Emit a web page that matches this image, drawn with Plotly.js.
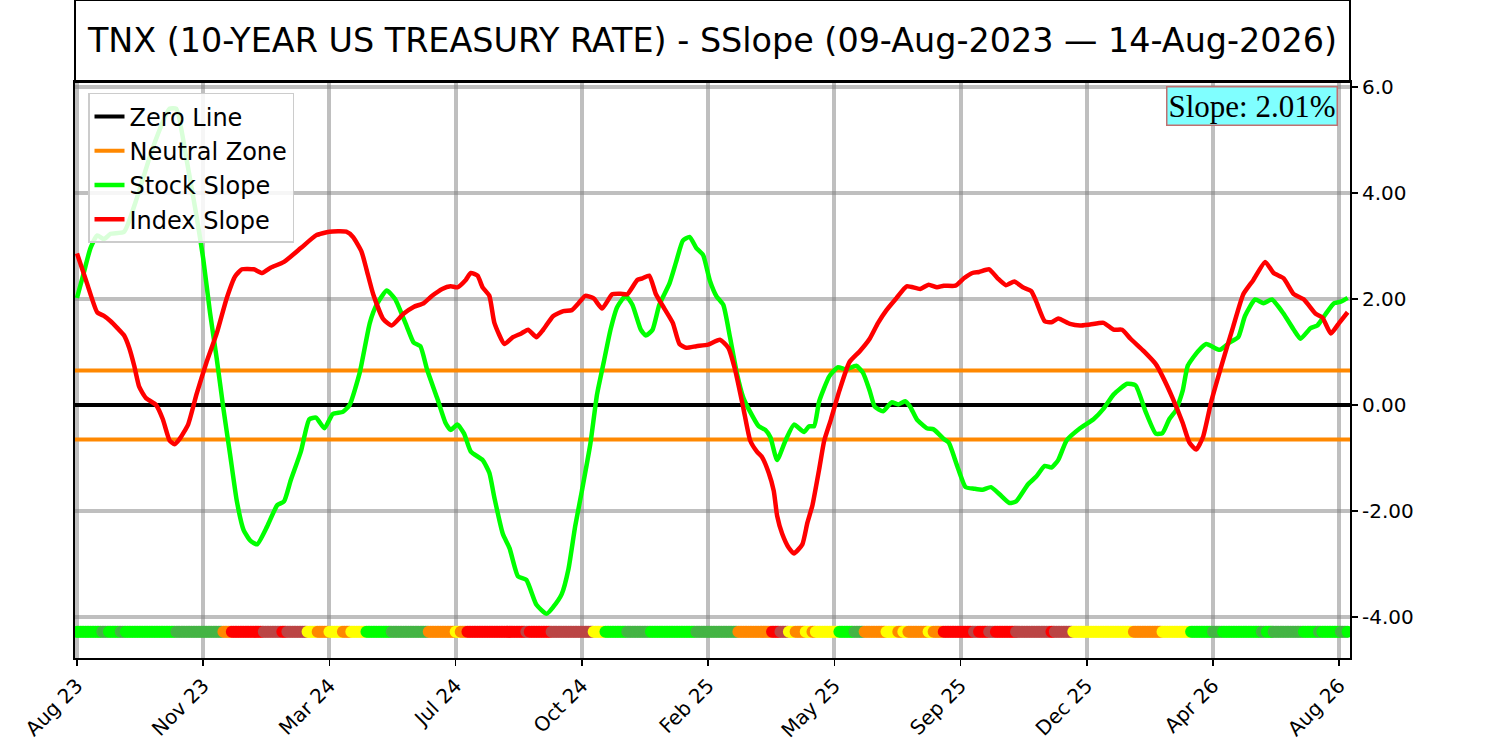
<!DOCTYPE html>
<html>
<head>
<meta charset="utf-8">
<script src="https://cdn.plot.ly/plotly-3.0.1.min.js"></script>
<style>
  html, body { margin: 0; padding: 0; background: #fff; }
  #chart { width: 1500px; height: 741px; }
</style>
</head>
<body>
<div id="chart"></div>
<script>
// trading-day index (0 = 09-Aug-2023), ticks every 75 sessions
const tickDays = [0, 75, 150, 225, 300, 375, 450, 525, 600, 675, 750];
const tickLabels = ['Aug 23', 'Nov 23', 'Mar 24', 'Jul 24', 'Oct 24', 'Feb 25', 'May 25', 'Sep 25', 'Dec 25', 'Apr 26', 'Aug 26'];
const lastDay = 755;

const yTicks = [-4, -2, 0, 2, 4, 6];
const yTickText = ['-4.00', '-2.00', '0.00', '2.00', '4.00', '6.0'];

const zeroLevel = 0;
const neutralBand = 0.65;
const stripLevel = -4.28;
const slopeText = 'Slope: 2.01%';

// stock slope (green)
const stockDays = [0, 4, 8, 12, 16, 20, 28, 35, 45, 55, 59, 65, 71, 75, 79, 83, 87, 91, 95, 99, 103, 107, 113, 119, 123, 127, 133, 138, 142, 147, 152, 158, 162, 168, 174, 178, 184, 189, 196, 200, 204, 208, 214, 219, 222, 226, 230, 234, 241, 245, 248, 253, 257, 262, 267, 273, 279, 283, 288, 292, 296, 300, 305, 309, 313, 317, 321, 326, 330, 335, 338, 342, 346, 352, 356, 360, 364, 368, 372, 376, 380, 384, 388, 392, 396, 400, 405, 409, 412, 416, 421, 426, 432, 435, 438, 441, 447, 452, 457, 463, 467, 471, 474, 479, 484, 488, 492, 495, 499, 505, 509, 515, 518, 523, 528, 533, 538, 543, 548, 554, 558, 565, 570, 575, 579, 583, 588, 596, 604, 610, 616, 624, 629, 635, 641, 645, 649, 653, 657, 660, 666, 671, 679, 685, 690, 694, 700, 705, 710, 717, 723, 727, 733, 737, 742, 747, 751, 755];
const stockSlope = [2.02, 2.49, 2.96, 3.2, 3.13, 3.23, 3.27, 3.85, 4.85, 5.59, 5.59, 4.65, 3.57, 2.76, 1.75, 0.88, -0.07, -0.94, -1.82, -2.36, -2.56, -2.63, -2.29, -1.89, -1.82, -1.42, -0.88, -0.27, -0.24, -0.44, -0.17, -0.13, 0.0, 0.61, 1.55, 1.89, 2.16, 2.0, 1.48, 1.18, 1.11, 0.67, 0.13, -0.34, -0.47, -0.37, -0.54, -0.88, -1.04, -1.28, -1.75, -2.43, -2.7, -3.23, -3.3, -3.77, -3.94, -3.81, -3.57, -3.1, -2.29, -1.62, -0.74, 0.2, 0.81, 1.42, 1.85, 2.06, 1.89, 1.42, 1.31, 1.42, 1.89, 2.29, 2.7, 3.1, 3.17, 2.96, 2.83, 2.35, 2.05, 1.89, 1.28, 0.61, 0.13, -0.13, -0.4, -0.47, -0.61, -1.04, -0.67, -0.37, -0.51, -0.4, -0.4, 0.07, 0.54, 0.71, 0.67, 0.74, 0.61, 0.27, -0.03, -0.12, 0.05, 0.01, 0.07, -0.03, -0.27, -0.44, -0.46, -0.64, -0.71, -1.15, -1.55, -1.58, -1.6, -1.55, -1.68, -1.85, -1.82, -1.5, -1.35, -1.15, -1.18, -1.04, -0.67, -0.44, -0.27, -0.07, 0.2, 0.4, 0.37, -0.13, -0.54, -0.53, -0.27, -0.1, 0.27, 0.74, 1.01, 1.15, 1.04, 1.18, 1.28, 1.68, 1.99, 1.92, 1.99, 1.72, 1.42, 1.25, 1.45, 1.5, 1.72, 1.92, 1.95, 2.02];

// index slope (red)
const indexDays = [0, 6, 12, 16, 20, 24, 28, 31, 34, 37, 41, 47, 51, 55, 58, 61, 66, 71, 77, 83, 89, 94, 98, 105, 110, 115, 123, 133, 142, 150, 160, 164, 169, 172, 176, 182, 187, 194, 200, 206, 211, 217, 222, 226, 231, 234, 238, 241, 245, 248, 254, 259, 264, 268, 273, 277, 283, 289, 294, 298, 302, 307, 312, 318, 323, 327, 333, 336, 340, 344, 349, 354, 358, 362, 368, 375, 382, 387, 391, 396, 400, 404, 407, 411, 414, 416, 419, 423, 426, 431, 434, 437, 441, 444, 448, 453, 459, 465, 471, 476, 481, 487, 493, 501, 506, 511, 515, 522, 527, 532, 536, 542, 547, 552, 557, 562, 567, 570, 575, 579, 583, 590, 596, 602, 610, 616, 621, 626, 634, 641, 645, 651, 657, 661, 665, 669, 674, 680, 687, 693, 699, 706, 711, 717, 723, 729, 736, 740, 745, 750, 755];
const indexSlope = [2.86, 2.29, 1.75, 1.68, 1.58, 1.45, 1.31, 1.08, 0.74, 0.34, 0.13, 0.0, -0.27, -0.67, -0.74, -0.64, -0.37, 0.2, 0.81, 1.35, 2.02, 2.43, 2.56, 2.56, 2.49, 2.59, 2.7, 2.96, 3.2, 3.27, 3.27, 3.17, 2.9, 2.56, 2.09, 1.62, 1.5, 1.72, 1.85, 1.92, 2.06, 2.19, 2.24, 2.22, 2.36, 2.49, 2.44, 2.22, 2.06, 1.55, 1.15, 1.28, 1.35, 1.42, 1.28, 1.42, 1.68, 1.77, 1.79, 1.92, 2.06, 2.01, 1.82, 2.09, 2.1, 2.09, 2.36, 2.39, 2.44, 2.09, 1.82, 1.55, 1.15, 1.08, 1.11, 1.14, 1.23, 1.08, 0.67, -0.07, -0.67, -0.88, -0.98, -1.28, -1.62, -2.09, -2.43, -2.7, -2.8, -2.63, -2.22, -1.89, -1.21, -0.67, -0.27, 0.27, 0.81, 1.01, 1.25, 1.55, 1.79, 2.02, 2.24, 2.19, 2.27, 2.22, 2.25, 2.25, 2.39, 2.49, 2.51, 2.56, 2.39, 2.26, 2.33, 2.22, 2.15, 1.95, 1.58, 1.56, 1.63, 1.53, 1.5, 1.52, 1.55, 1.42, 1.42, 1.25, 1.01, 0.77, 0.54, 0.13, -0.34, -0.71, -0.84, -0.61, 0.07, 0.74, 1.48, 2.09, 2.36, 2.7, 2.49, 2.39, 2.09, 1.99, 1.72, 1.65, 1.35, 1.55, 1.75];

// state strip along the bottom: first session of each run and its state
const stripStart = [0, 15, 19, 26, 29, 59, 87, 92, 111, 122, 125, 137, 143, 150, 158, 163, 172, 187, 209, 225, 228, 232, 267, 269, 282, 307, 314, 327, 341, 368, 393, 413, 418, 423, 427, 433, 437, 439, 453, 462, 468, 481, 488, 491, 494, 506, 509, 515, 533, 536, 542, 546, 558, 579, 581, 592, 628, 645, 662, 675, 681, 704, 707, 711, 729, 738, 740, 751, 755];
const stripState = ['G', 'DG', 'G', 'DG', 'G', 'DG', 'O', 'R', 'BR', 'R', 'BR', 'Y', 'O', 'Y', 'O', 'Y', 'G', 'DG', 'O', 'Y', 'O', 'R', 'BR', 'R', 'BR', 'Y', 'G', 'DG', 'G', 'DG', 'O', 'R', 'BR', 'Y', 'O', 'Y', 'O', 'Y', 'G', 'DG', 'O', 'Y', 'O', 'Y', 'O', 'Y', 'O', 'R', 'BR', 'R', 'BR', 'R', 'BR', 'R', 'BR', 'Y', 'O', 'Y', 'G', 'DG', 'G', 'DG', 'G', 'DG', 'G', 'DG', 'G', 'DG', 'G'];
const stateColors = { G: '#00ff00', DG: '#44b444', O: '#ff8800', R: '#ff0000', BR: '#bb4545', Y: '#ffff00' };

const FONT = 'DejaVu Sans, sans-serif';

// build per-session strip from the runs
const stripX = [];
const stripColor = [];
let run = 0;
for (let d = 0; d <= lastDay; d++) {
  while (run + 1 < stripStart.length && stripStart[run + 1] <= d) run++;
  stripX.push(d);
  stripColor.push(stateColors[stripState[run]]);
}

const spanX = [-2, lastDay + 5];

const traces = [
  {
    x: stripX, y: stripX.map(() => stripLevel),
    mode: 'markers', type: 'scatter', showlegend: false, hoverinfo: 'skip',
    marker: { size: 12, color: stripColor, line: { width: 0 } },
    cliponaxis: true,
  },
  {
    x: spanX, y: [zeroLevel, zeroLevel], name: 'Zero Line', legendgroup: 'a',
    mode: 'lines', line: { color: '#000000', width: 4 },
  },
  {
    x: spanX, y: [neutralBand, neutralBand], name: 'Neutral Zone', legendgroup: 'b',
    mode: 'lines', line: { color: '#ff8800', width: 4 },
  },
  {
    x: spanX, y: [-neutralBand, -neutralBand], name: 'Neutral Zone', legendgroup: 'b',
    mode: 'lines', line: { color: '#ff8800', width: 4 }, showlegend: false,
  },
  {
    x: stockDays, y: stockSlope, name: 'Stock Slope', legendgroup: 'c',
    mode: 'lines', line: { color: '#00ff00', width: 4.5, shape: 'spline', smoothing: 0.5 },
  },
  {
    x: indexDays, y: indexSlope, name: 'Index Slope', legendgroup: 'd',
    mode: 'lines', line: { color: '#ff0000', width: 4.5, shape: 'spline', smoothing: 0.5 },
  },
];

const layout = {
  width: 1500,
  height: 741,
  margin: { l: 75, r: 150, t: 82, b: 83 },
  paper_bgcolor: '#ffffff',
  plot_bgcolor: '#ffffff',
  font: { family: FONT, color: '#000000', size: 20 },
  title: {
    text: 'TNX (10-YEAR US TREASURY RATE) - SSlope (09-Aug-2023 \u2014 14-Aug-2026)',
    font: { family: FONT, size: 33.4, color: '#000000' },
    xref: 'paper', x: 0.5, xanchor: 'center',
    yref: 'container', y: 0.945, yanchor: 'middle',
  },
  showlegend: true,
  legend: {
    x: 0.0102, y: 0.981, xanchor: 'left', yanchor: 'top',
    bgcolor: 'rgba(255,255,255,0.85)', bordercolor: '#cccccc', borderwidth: 1.5,
    font: { family: FONT, size: 24, color: '#000000' },
    tracegroupgap: 5.5, itemwidth: 30, traceorder: 'normal',
  },
  xaxis: {
    range: [-1.19, 756.4],
    tickvals: tickDays, ticktext: tickLabels, tickangle: -45,
    tickfont: { family: FONT, size: 20 },
    ticks: 'outside', ticklen: 6, tickwidth: 1.5, tickcolor: '#000000',
    showgrid: true, gridcolor: 'rgba(128,128,128,0.5)', gridwidth: 4,
    showline: true, linecolor: '#000000', linewidth: 2, mirror: true,
    zeroline: false,
  },
  yaxis: {
    side: 'right',
    range: [-4.774, 6.094],
    tickvals: yTicks, ticktext: yTickText,
    tickfont: { family: FONT, size: 20 },
    ticks: 'outside', ticklen: 6, tickwidth: 1.5, tickcolor: '#000000',
    showgrid: true, gridcolor: 'rgba(128,128,128,0.5)', gridwidth: 4,
    showline: true, linecolor: '#000000', linewidth: 2, mirror: true,
    zeroline: false,
  },
  shapes: [
    {
      type: 'rect', xref: 'paper', yref: 'paper',
      x0: 0, x1: 1, y0: 1, y1: 1.1424,
      line: { color: '#000000', width: 2 }, fillcolor: 'rgba(0,0,0,0)',
    },
  ],
  annotations: [
    {
      text: slopeText, xref: 'paper', yref: 'paper',
      x: 0.9906, y: 0.993, xanchor: 'right', yanchor: 'top', showarrow: false,
      font: { family: 'Liberation Serif, serif', size: 31, color: '#000000' },
      bgcolor: '#80ffff', bordercolor: '#c07070', borderwidth: 1.5, borderpad: 1,
    },
  ],
};

Plotly.newPlot('chart', traces, layout, { displayModeBar: false, staticPlot: true });
</script>
</body>
</html>
